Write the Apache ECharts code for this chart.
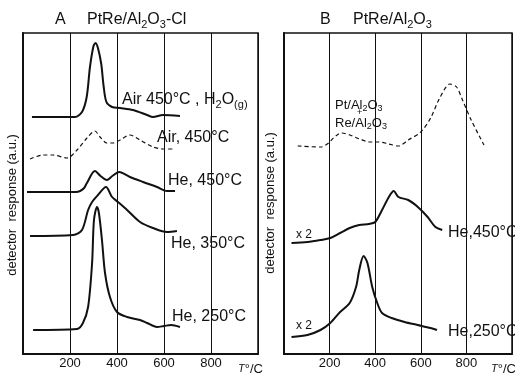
<!DOCTYPE html>
<html>
<head>
<meta charset="utf-8">
<script src="https://cdn.jsdelivr.net/npm/echarts@6/dist/echarts.min.js"></script>
<style>
  html, body { margin: 0; padding: 0; background: #fff; }
  #chart { width: 515px; height: 377px; }
</style>
</head>
<body>
<div id="chart"></div>
<script>
// x ticks (°C)
const tempTicks = [200, 400, 600, 800];

// panel A  PtRe/Al2O3-Cl
const airH2oT = [38, 221, 251, 271, 285, 300, 309, 320, 333, 343, 355, 379, 413, 468, 528, 553, 596, 668];
const airH2oY = [237, 237, 242, 257, 287, 308, 311, 305, 290, 268, 252, 247, 246, 244, 239, 237, 239, 238];

const airT = [30, 85, 128, 187, 230, 272, 306, 328, 357, 383, 413, 455, 498, 553, 596, 638];
const airY = [195, 199, 199, 196, 204, 216, 223, 217, 211, 211, 214, 219, 214, 207, 205, 205];

const he450T = [17, 225, 243, 260, 272, 306, 330, 357, 380, 409, 455, 511, 570, 613, 647];
const he450Y = [162, 162, 163, 166, 171, 183, 178, 174, 178, 182, 177, 172, 167, 163, 163];

const he350T = [30, 213, 251, 277, 294, 319, 353, 379, 404, 443, 498, 553, 613, 655];
const he350Y = [118, 119, 124, 144, 152, 159, 167, 157, 152, 144, 132, 126, 122, 123];

const he250T = [43, 230, 255, 277, 294, 302, 315, 323, 336, 349, 370, 400, 443, 498, 528, 570, 600, 630, 668];
const he250Y = [24, 25, 31, 47, 91, 134, 147, 141, 114, 81, 57, 42, 37, 34, 31, 27, 28, 29, 27];

// panel B  PtRe/Al2O3
const mixT = [60, 162, 196, 217, 251, 289, 332, 374, 417, 460, 502, 545, 600, 643, 685, 728, 757, 783, 821, 877];
const mixY = [208, 207, 211, 216, 221, 219, 215, 212, 212, 210, 208, 214, 222, 236, 257, 270, 267, 254, 234, 209];

const he450bT = [33, 103, 160, 203, 246, 288, 330, 373, 400, 430, 460, 481, 502, 545, 587, 630, 664, 694];
const he450bY = [111, 112, 114, 116, 121, 126, 129, 130, 132, 144, 157, 163, 157, 154, 147, 137, 127, 124];

const he250bT = [33, 103, 160, 203, 246, 288, 316, 330, 349, 366, 387, 409, 430, 472, 529, 586, 643, 671];
const he250bY = [17, 19, 24, 31, 42, 51, 67, 84, 98, 91, 67, 51, 41, 36, 32, 29, 26, 24];

const FONT = '"Liberation Sans", Arial, sans-serif';
const INK = '#111';

function pairs(xs, ys) {
  return xs.map(function (x, i) { return [x, ys[i]]; });
}

function xAxisFor(idx) {
  return {
    gridIndex: idx,
    type: 'value',
    min: 0,
    max: 1000,
    interval: 200,
    axisLine: { show: true, lineStyle: { color: INK, width: 2 } },
    axisTick: { show: false },
    splitLine: { show: true, lineStyle: { color: '#111', width: 1 } },
    axisLabel: {
      margin: 3,
      fontFamily: FONT,
      fontSize: 13,
      color: INK,
      formatter: function (v) { return tempTicks.indexOf(v) >= 0 ? String(v) : ''; }
    }
  };
}

function yAxisFor(idx) {
  return {
    gridIndex: idx,
    type: 'value',
    min: 0,
    max: 321,
    axisLine: { show: true, lineStyle: { color: INK, width: 2 } },
    axisTick: { show: false },
    axisLabel: { show: false },
    splitLine: { show: false }
  };
}

function curve(idx, xs, ys, dashed) {
  return {
    type: 'line',
    xAxisIndex: idx,
    yAxisIndex: idx,
    data: pairs(xs, ys),
    smooth: 0.3,
    symbol: 'none',
    lineStyle: {
      color: INK,
      width: dashed ? 1.2 : 2,
      type: dashed ? [4, 3] : 'solid'
    }
  };
}

const subRich = {
  a: { fontFamily: FONT, fontSize: 16, color: INK },
  s: { fontFamily: FONT, fontSize: 11, color: INK, padding: [9, 0, 0, 0] },
  b: { fontFamily: FONT, fontSize: 13, color: INK },
  t: { fontFamily: FONT, fontSize: 9, color: INK, padding: [7, 0, 0, 0] },
  i: { fontFamily: FONT, fontSize: 11, fontStyle: 'italic', color: INK }
};

function label(x, y, text, size, extra) {
  return Object.assign({
    type: 'text',
    x: x,
    y: y,
    silent: true,
    style: {
      text: text,
      fontFamily: FONT,
      fontSize: size,
      fill: INK,
      align: 'left',
      verticalAlign: 'middle',
      rich: subRich
    }
  }, extra || {});
}

function yName(x, y) {
  return {
    type: 'text',
    x: x,
    y: y,
    rotation: Math.PI / 2,
    silent: true,
    style: {
      text: 'detector  response (a.u.)',
      fontFamily: FONT,
      fontSize: 13,
      fill: INK,
      align: 'center',
      verticalAlign: 'middle'
    }
  };
}

const chart = echarts.init(document.getElementById('chart'), null, { renderer: 'canvas' });

const option = {
  backgroundColor: '#fff',
  animation: false,
  grid: [
    { left: 23, top: 33, width: 235, height: 321, show: true, borderColor: INK, borderWidth: 1.5 },
    { left: 284, top: 33, width: 235, height: 321, show: true, borderColor: INK, borderWidth: 1.5 }
  ],
  xAxis: [xAxisFor(0), xAxisFor(1)],
  yAxis: [yAxisFor(0), yAxisFor(1)],
  series: [
    curve(0, airH2oT, airH2oY, false),
    curve(0, airT, airY, true),
    curve(0, he450T, he450Y, false),
    curve(0, he350T, he350Y, false),
    curve(0, he250T, he250Y, false),
    curve(1, mixT, mixY, true),
    curve(1, he450bT, he450bY, false),
    curve(1, he250bT, he250bY, false)
  ],
  graphic: [
    // titles
    label(55, 20, 'A', 16),
    label(87, 20, '{a|PtRe/Al}{s|2}{a|O}{s|3}{a|-Cl}', 16),
    label(320, 20, 'B', 16),
    label(353, 20, '{a|PtRe/Al}{s|2}{a|O}{s|3}', 16),
    // panel A labels
    label(122, 100, '{a|Air 450°C , H}{s|2}{a|O}{s|(g)}', 16),
    label(157, 138, 'Air, 450°C', 16),
    label(168, 181, 'He, 450°C', 16),
    label(171, 244, 'He, 350°C', 16),
    label(172, 317, 'He, 250°C', 16),
    // panel B labels
    label(335, 105, '{b|Pt/Al}{t|2}{b|O}{t|3}', 13),
    label(357, 113, '+', 9),
    label(335, 123, '{b|Re/Al}{t|2}{b|O}{t|3}', 13),
    label(296, 235, 'x 2', 12),
    label(296, 326, 'x 2', 12),
    label(448, 233, 'He,450°C', 16),
    label(448, 332, 'He,250°C', 16),
    // axis names
    label(238, 369, '{i|T}{b|°/C}', 11),
    label(491, 369, '{i|T}{b|°/C}', 11),
    yName(12, 205),
    yName(270, 203)
  ]
};

chart.setOption(option);
</script>
</body>
</html>
